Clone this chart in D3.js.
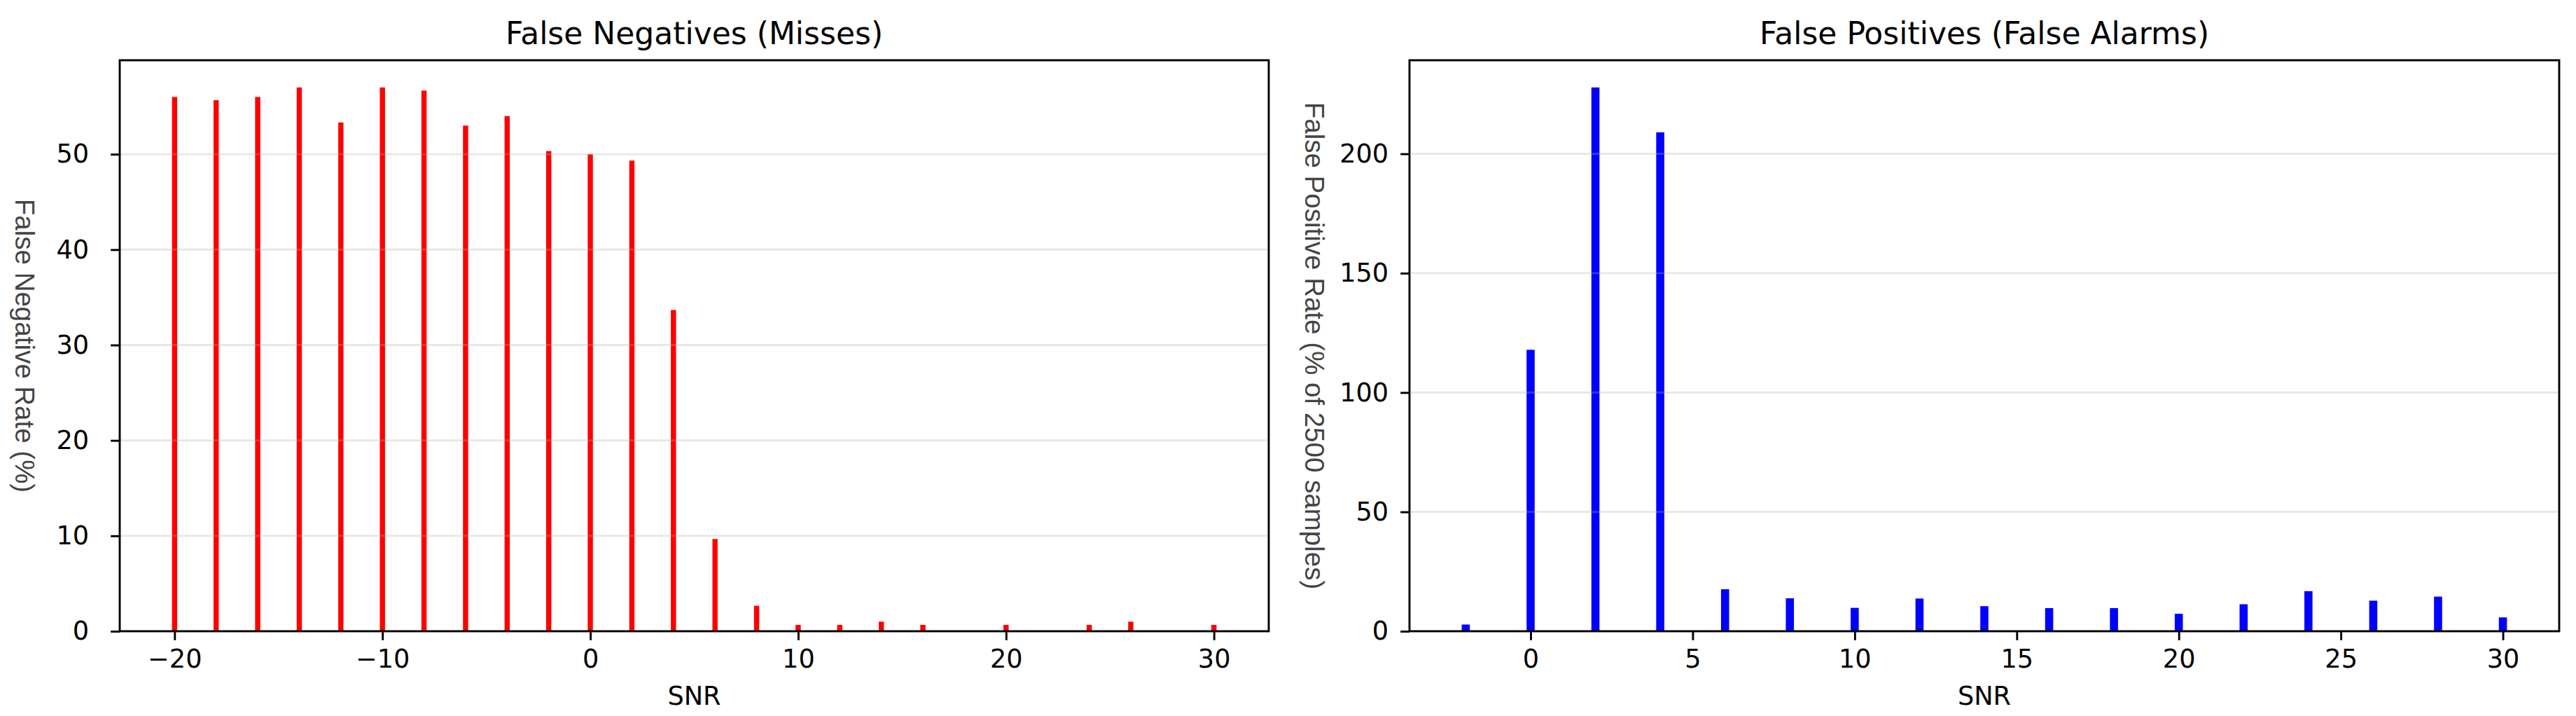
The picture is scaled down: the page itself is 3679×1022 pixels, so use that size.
<!DOCTYPE html>
<html>
<head>
<meta charset="utf-8">
<script src="https://cdn.jsdelivr.net/npm/d3@7"></script>
<style>
  html, body { margin: 0; padding: 0; background: #fff; }
  svg { display: block; }
</style>
</head>
<body>
<svg id="chart" width="3679" height="1022"></svg>
<script>
// ---------- data ----------
const fnSNR   = [-20, -18, -16, -14, -12, -10, -8, -6, -4, -2, 0, 2, 4, 6, 8, 10, 12, 14, 16, 18, 20, 22, 24, 26, 28, 30];
const fnRate  = [56.0, 55.67, 56.0, 57.0, 53.33, 57.0, 56.67, 53.0, 54.0, 50.33, 50.0, 49.33, 33.67, 9.67, 2.67, 0.67, 0.67, 1.0, 0.67, 0, 0.67, 0, 0.67, 1.0, 0, 0.67];
const fpSNR   = [-2, 0, 2, 4, 6, 8, 10, 12, 14, 16, 18, 20, 22, 24, 26, 28, 30];
const fpRate  = [2.8, 117.9, 227.8, 209.0, 17.6, 13.8, 9.8, 13.7, 10.5, 9.7, 9.7, 7.3, 11.3, 16.8, 12.8, 14.5, 5.8];
const fnXTicks = [-20, -10, 0, 10, 20, 30];
const fnYTicks = [0, 10, 20, 30, 40, 50];
const fpXTicks = [0, 5, 10, 15, 20, 25, 30];
const fpYTicks = [0, 50, 100, 150, 200];
const titles  = ["False Negatives (Misses)", "False Positives (False Alarms)"];
const yLabels = ["False Negative Rate (%)", "False Positive Rate (% of 2500 samples)"];
const xLabel  = "SNR";

// ---------- layout ----------
const svg = d3.select("#chart");
svg.append("rect").attr("width", 3679).attr("height", 1022).attr("fill", "#fff");

const TOP = 86, BOTTOM = 901;
const LW = 2.9;
const barWidth = 0.25;
const DV = "'DejaVu Sans', sans-serif";
const LIB = "'Liberation Sans', Arial, sans-serif";

function panel(cfg) {
  const g = svg.append("g");
  const xmin0 = d3.min(cfg.xs) - barWidth / 2, xmax0 = d3.max(cfg.xs) + barWidth / 2;
  const pad = 0.05 * (xmax0 - xmin0);
  const x = d3.scaleLinear().domain([xmin0 - pad, xmax0 + pad]).range([cfg.x0, cfg.x1]);
  const y = d3.scaleLinear().domain([0, d3.max(cfg.ys) * 1.05]).range([BOTTOM, TOP]);

  // bars
  g.append("g").selectAll("rect").data(cfg.xs.map((v, i) => [v, cfg.ys[i]]))
    .join("rect")
    .attr("x", d => x(d[0] - barWidth / 2))
    .attr("width", d => x(d[0] + barWidth / 2) - x(d[0] - barWidth / 2))
    .attr("y", d => y(d[1]))
    .attr("height", d => BOTTOM - y(d[1]))
    .attr("fill", cfg.color);

  // grid (above bars, like matplotlib)
  g.append("g").selectAll("line").data(cfg.yTicks.filter(t => t > 0))
    .join("line")
    .attr("x1", cfg.x0).attr("x2", cfg.x1)
    .attr("y1", d => y(d)).attr("y2", d => y(d))
    .attr("stroke", "#b0b0b0").attr("stroke-opacity", 0.3).attr("stroke-width", LW);

  // x axis
  const xa = g.append("g").attr("transform", `translate(0,${BOTTOM})`)
    .call(d3.axisBottom(x).tickValues(cfg.xTicks).tickSize(12.8).tickPadding(13));
  xa.select(".domain").remove();
  xa.selectAll(".tick line").attr("stroke", "#000").attr("stroke-width", LW);
  xa.selectAll(".tick text").attr("fill", "#000")
    .style("font-size", "36.7px").style("font-family", DV);

  // y axis
  const ya = g.append("g").attr("transform", `translate(${cfg.x0},0)`)
    .call(d3.axisLeft(y).tickValues(cfg.yTicks).tickSize(12.8).tickPadding(cfg.yPad));
  ya.select(".domain").remove();
  ya.selectAll(".tick line").attr("stroke", "#000").attr("stroke-width", LW);
  ya.selectAll(".tick text").attr("fill", "#000")
    .style("font-size", "36.7px").style("font-family", DV);

  // spines
  g.append("rect").attr("x", cfg.x0).attr("y", TOP)
    .attr("width", cfg.x1 - cfg.x0).attr("height", BOTTOM - TOP)
    .attr("fill", "none").attr("stroke", "#000").attr("stroke-width", LW);

  const cx = (cfg.x0 + cfg.x1) / 2;
  // title
  g.append("text").attr("x", cx).attr("y", 63).attr("text-anchor", "middle")
    .style("font-size", "44px").style("font-family", DV).attr("fill", "#000").text(cfg.title);
  // x label
  g.append("text").attr("x", cx).attr("y", 1006).attr("text-anchor", "middle")
    .style("font-size", "36.7px").style("font-family", DV).attr("fill", "#000").text(xLabel);
  // y label (reads top to bottom)
  const cy = (TOP + BOTTOM) / 2;
  g.append("text")
    .attr("transform", `translate(${cfg.x0 - 136},${cy}) rotate(90)`)
    .attr("text-anchor", "middle").attr("dominant-baseline", "central")
    .style("font-family", LIB).style("font-size", "38.5px")
    .attr("fill", "#444").text(cfg.ylabel);
}

panel({ xs: fnSNR, ys: fnRate, x0: 171, x1: 1812, color: "#ff0000",
        xTicks: fnXTicks, yTicks: fnYTicks, yPad: 31, title: titles[0], ylabel: yLabels[0] });
panel({ xs: fpSNR, ys: fpRate, x0: 2013, x1: 3655, color: "#0000ff",
        xTicks: fpXTicks, yTicks: fpYTicks, yPad: 17, title: titles[1], ylabel: yLabels[1] });
</script>
</body>
</html>
